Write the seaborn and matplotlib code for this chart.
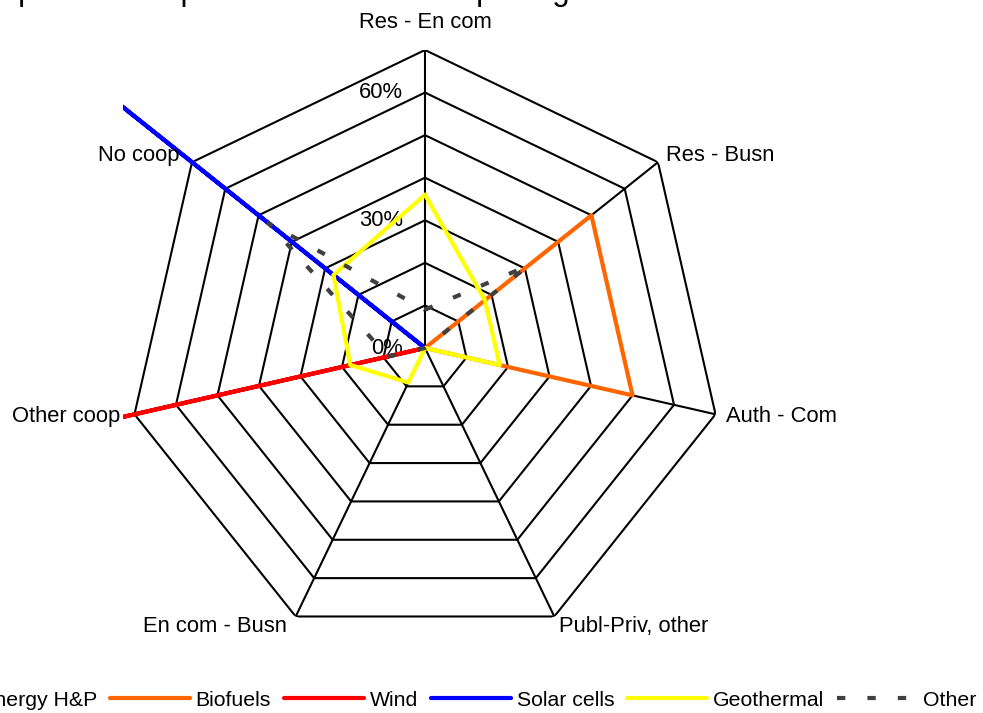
import numpy as np
import matplotlib
matplotlib.use("Agg")
import matplotlib.pyplot as plt
from matplotlib.patches import Rectangle
import seaborn as sns

categories = ["Res - En com", "Res - Busn", "Auth - Com", "Publ-Priv, other",
              "En com - Busn", "Other coop", "No coop"]
bioenergy_hp = [0, 0, 0, 0, 0, 0, 0]
biofuels = [0, 50, 50, 0, 0, 0, 0]
wind = [0, 0, 0, 0, 0, 80, 0]
solar_cells = [0, 0, 0, 0, 0, 0, 100]
geothermal = [36, 18, 18, 0, 9, 18, 27.5]
other = [9, 31, 0, 0, 0, 9, 47]
series_names = ["Bioenergy H&P", "Biofuels", "Wind", "Solar cells", "Geothermal", "Other"]
series_colors = ["#00B050", "#FF6600", "#FF0000", "#0000FF", "#FFFF00", "#404040"]
ring_ticks = [10, 20, 30, 40, 50, 60, 70]
ring_labels = ["0%", "30%", "60%"]
ring_label_vals = [0, 30, 60]
title = "Map of shares per institutional actor pairing"

sns.set_style("white")
plt.rcParams['font.family'] = ['Liberation Sans', 'DejaVu Sans']
plt.rcParams['text.color'] = 'black'
fs = 15.8

W, H = 983, 713
fig = plt.figure(figsize=(W / 100, H / 100), dpi=100)
cx, cy, rad = 425, 348, 298
ax = fig.add_axes([(cx - rad) / W, (H - cy - rad) / H, 2 * rad / W, 2 * rad / H],
                  projection='polar')
ax.set_theta_zero_location('N')
ax.set_theta_direction(-1)
ax.set_ylim(0, 70)
ax.grid(False)
ax.set_xticks([])
ax.set_yticks([])
ax.spines['polar'].set_visible(False)
ax.patch.set_visible(False)

theta = np.linspace(0, 2 * np.pi, len(categories), endpoint=False)
theta_c = np.append(theta, theta[0])

# heptagon grid
for r in ring_ticks:
    ax.plot(theta_c, [r] * len(theta_c), color='black', lw=1.5, zorder=1)
for t in theta:
    ax.plot([t, t], [0, ring_ticks[-1]], color='black', lw=1.5, zorder=1)

clip = Rectangle((123 / W, 0), 1, 1, transform=fig.transFigure)
data = [bioenergy_hp, biofuels, wind, solar_cells, geothermal, other]
handles = []
for name, vals, col in zip(series_names, data, series_colors):
    v = list(vals) + [vals[0]]
    ls = (0, (2, 5.3)) if name == "Other" else '-'
    sns.lineplot(x=theta_c, y=v, ax=ax, sort=False, estimator=None, color=col,
                 linewidth=3, linestyle=ls, legend=False, solid_capstyle='round')
    ln = ax.lines[-1]
    ln.set_label(name)
    ln.set_clip_path(clip)
    ln.set_zorder(3)
    handles.append(ln)

for t, name in zip(theta, categories):
    s = np.sin(t)
    ha = 'left' if s > 0.1 else ('right' if s < -0.1 else 'center')
    va = 'bottom' if np.cos(t) > 0.99 else 'center'
    dx = -4 if s < -0.1 else 0
    dy = 6 if np.cos(t) > 0.99 else 0
    ax.annotate(name, xy=(t, 72.5), xytext=(dx, dy), textcoords='offset pixels',
                ha=ha, va=va, fontsize=fs, color='black', annotation_clip=False)

for val, lbl in zip(ring_label_vals, ring_labels):
    ax.annotate(lbl, xy=(0, val), xytext=(-22, 0), textcoords='offset pixels',
                ha='right', va='center', fontsize=fs, color='black', zorder=2)

fig.legend(handles, series_names, loc='center right',
           bbox_to_anchor=(976 / W, 1 - 700 / H), ncol=6, frameon=False,
           handlelength=3.76, handletextpad=0.28, columnspacing=0.6,
           borderpad=0, borderaxespad=0, fontsize=15.3, labelcolor='black')

fig.text(-25 / W, 1 + 0.5 / H, title, ha='left', va='baseline', fontsize=22.3,
         color='black')

fig.savefig("out.png", dpi=100)
